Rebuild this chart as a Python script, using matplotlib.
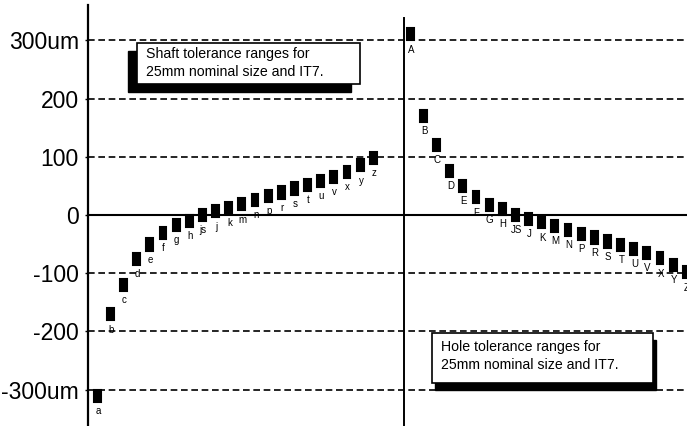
import matplotlib
matplotlib.use("Agg")
import matplotlib.pyplot as plt
import numpy as np
from matplotlib.patches import Rectangle

plt.rcParams['font.family'] = ['Liberation Sans', 'DejaVu Sans']

# fundamental deviations, 25mm nominal size, IT7 (um)
shaft_labels = ['a', 'b', 'c', 'd', 'e', 'f', 'g', 'h', 'js', 'j', 'k',
                'm', 'n', 'p', 'r', 's', 't', 'u', 'v', 'x', 'y', 'z']
shaft_upper = [-300, -160, -110, -65, -40, -20, -7, 0, 10.5, 17, 23,
               29, 36, 43, 49, 56, 62, 69, 76, 85, 96, 109]
shaft_lower = [-321, -181, -131, -86, -61, -41, -28, -21, -10.5, -4, 2,
               8, 15, 22, 28, 35, 41, 48, 55, 64, 75, 88]

hole_labels = ['A', 'B', 'C', 'D', 'E', 'F', 'G', 'H', 'JS', 'J', 'K',
               'M', 'N', 'P', 'R', 'S', 'T', 'U', 'V', 'X', 'Y', 'Z']
hole_upper = [321, 181, 131, 86, 61, 41, 28, 21, 10.5, 4, -2,
              -8, -15, -22, -28, -35, -41, -48, -55, -64, -75, -88]
hole_lower = [300, 160, 110, 65, 40, 20, 7, 0, -10.5, -17, -23,
              -29, -36, -43, -49, -56, -62, -69, -76, -85, -96, -109]

ytick_vals = [-300, -200, -100, 0, 100, 200, 300]
ytick_text = ['-300um', '-200', '-100', '0', '100', '200', '300um']

W, H = 687, 426
fig = plt.figure(figsize=(W / 100, H / 100), dpi=100)
ax = fig.add_axes([88 / W, 0, 599 / W, 1])

x_shaft = np.arange(len(shaft_labels)) + 0.7
x_hole = np.arange(len(hole_labels)) + 24.5

ax.set_xlim(0, 45.55)
ax.set_ylim(-362.5, 369.4)
for s in ax.spines.values():
    s.set_visible(False)

# grid
for v in ytick_vals:
    if v == 0:
        ax.axhline(0, color='black', lw=1.5, zorder=1)
    else:
        ax.axhline(v, color='black', lw=1.2, dashes=(4, 2.2), zorder=1)
ax.axvline(0, ymax=1 - 5 / H, color='black', lw=1.6, clip_on=False)
ax.axvline(24.0, ymax=1 - 18 / H, color='black', lw=1.4)

def draw(xs, lo, hi, labels):
    lo = np.array(lo, float)
    hi = np.array(hi, float)
    ax.bar(xs, hi - lo, bottom=lo, width=0.52, color='black',
           edgecolor='black', lw=1.5, zorder=3)
    for x, b, lab in zip(xs, lo, labels):
        ax.annotate(lab, (x, b), xytext=(0.5, -3), textcoords='offset points',
                    ha='center', va='top', fontsize=7, zorder=4)

draw(x_shaft, shaft_lower, shaft_upper, shaft_labels)
draw(x_hole, hole_lower, hole_upper, hole_labels)

ax.set_xticks([])
ax.set_yticks(ytick_vals)
ax.set_yticklabels(ytick_text, fontsize=16.5)
ax.tick_params(axis='y', length=2.5, width=1, pad=4)

def px(x, y):
    return x / W, 1 - y / H

def note_box(x0, y0, x1, y1, dx, dy, text, tx, ty):
    sx, sy = px(x0 + dx, y1 + dy)
    fig.patches.append(Rectangle((sx, sy), (x1 - x0) / W, (y1 - y0) / H,
                                 transform=fig.transFigure, facecolor='black',
                                 edgecolor='black', zorder=5))
    bx, by = px(x0, y1)
    fig.patches.append(Rectangle((bx, by), (x1 - x0) / W, (y1 - y0) / H,
                                 transform=fig.transFigure, facecolor='white',
                                 edgecolor='black', lw=1.2, zorder=6))
    fig.text(*px(tx, ty), text, fontsize=10.2, ha='left', va='center',
             linespacing=1.3, zorder=7)

note_box(137, 43, 360, 84, -9, 8,
         "Shaft tolerance ranges for\n25mm nominal size and IT7.", 146, 63)
note_box(432, 333, 653, 383, 3, 7,
         "Hole tolerance ranges for\n25mm nominal size and IT7.", 441, 356)

fig.savefig("out.png", dpi=100)
